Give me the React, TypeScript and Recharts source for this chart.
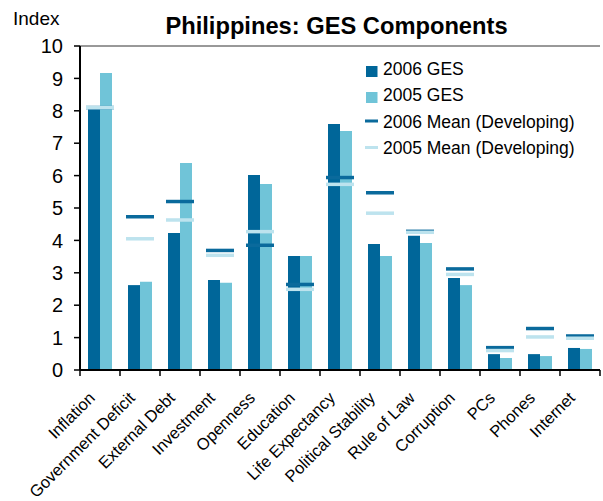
import * as React from "react";
import {
  ComposedChart, Bar, Scatter, XAxis, YAxis, ReferenceLine,
} from "recharts";

const categories = [
  "Inflation", "Government Deficit", "External Debt", "Investment", "Openness",
  "Education", "Life Expectancy", "Political Stability", "Rule of Law",
  "Corruption", "PCs", "Phones", "Internet",
];
const ges2006 = [8.05, 2.62, 4.23, 2.78, 6.02, 3.52, 7.59, 3.89, 4.14, 2.84, 0.49, 0.49, 0.68];
const ges2005 = [9.17, 2.72, 6.39, 2.69, 5.74, 3.52, 7.38, 3.52, 3.92, 2.62, 0.37, 0.43, 0.65];
const mean2006 = [8.1, 4.73, 5.2, 3.69, 3.85, 2.64, 5.94, 5.47, 4.28, 3.12, 0.69, 1.28, 1.05];
const mean2005 = [8.1, 4.05, 4.63, 3.54, 4.27, 2.49, 5.73, 4.84, 4.25, 2.95, 0.6, 1.02, 0.98];
const yTicks = [0, 1, 2, 3, 4, 5, 6, 7, 8, 9, 10];

const DARK = "#006699";
const LIGHT = "#70c4d8";
const MEAN06 = "#0a6a9c";
const MEAN05 = "#bde3ee";
const FONT = "'Liberation Sans', Arial, sans-serif";

const data = categories.map((name, i) => ({
  name,
  ges06: ges2006[i],
  ges05: ges2005[i],
  mean06: mean2006[i],
  mean05: mean2005[i],
}));

const meanShape = (color: string) => (props: any) => {
  const { cx, cy } = props;
  if (cx == null || cy == null) return <g />;
  return <line x1={cx - 14} x2={cx + 14} y1={cy} y2={cy} stroke={color} strokeWidth={3.5} />;
};

function CatTick(props: any) {
  const { x, y, payload, index } = props;
  const ax = x - 4;
  const ay = y + 21;
  return (
    <g>
      <line x1={x - 20} x2={x - 20} y1={y - 8} y2={y - 2} stroke="#000" strokeWidth={1.5} />
      {index === categories.length - 1 && (
        <line x1={x + 20} x2={x + 20} y1={y - 8} y2={y - 2} stroke="#000" strokeWidth={1.5} />
      )}
      <text
        x={ax}
        y={ay}
        transform={`rotate(-45, ${ax}, ${ay})`}
        textAnchor="end"
        fontSize={16.5}
        fontFamily={FONT}
        fill="#000"
      >
        {payload.value}
      </text>
    </g>
  );
}

const legendRows = [
  { label: "2006 GES", color: DARK, kind: "box", base: 75 },
  { label: "2005 GES", color: LIGHT, kind: "box", base: 101 },
  { label: "2006 Mean (Developing)", color: MEAN06, kind: "line", base: 127.5 },
  { label: "2005 Mean (Developing)", color: MEAN05, kind: "line", base: 154 },
];

function Overlay() {
  return (
    <svg
      width={603}
      height={501}
      style={{ position: "absolute", left: 0, top: 0, pointerEvents: "none" }}
      fontFamily={FONT}
    >
      <text x={336.5} y={34} textAnchor="middle" fontSize={23.7} fontWeight="bold" fill="#000">
        Philippines: GES Components
      </text>
      <text x={13} y={25} fontSize={19} fill="#000">Index</text>
      {legendRows.map((r) =>
        <g key={r.label}>
          {r.kind === "box" ? (
            <rect x={366} y={r.base - 9} width={11.5} height={11} fill={r.color} />
          ) : (
            <rect x={365} y={r.base - 8} width={13} height={3} fill={r.color} />
          )}
          <text x={383} y={r.base} fontSize={17.5} fill="#000">{r.label}</text>
        </g>
      )}
    </svg>
  );
}

export default function App() {
  return (
    <div style={{ position: "absolute", left: 0, top: 0, width: 603, height: 501, background: "#fff" }}>
      <ComposedChart
        width={603}
        height={501}
        data={data}
        margin={{ top: 46, right: 3, left: 0, bottom: 0 }}
        barCategoryGap="20%"
        barGap={0}
      >
        <XAxis
          dataKey="name"
          interval={0}
          height={131}
          axisLine={{ stroke: "#000", strokeWidth: 2 }}
          tickLine={false}
          tick={<CatTick />}
        />
        <YAxis
          domain={[0, 10]}
          ticks={yTicks}
          width={80}
          axisLine={{ stroke: "#000", strokeWidth: 2 }}
          tickLine={{ stroke: "#000", strokeWidth: 1.5 }}
          tickSize={6}
          tickMargin={11}
          tick={{ fill: "#000", fontSize: 20, fontFamily: FONT }}
        />
        <YAxis
          yAxisId="frame"
          orientation="right"
          width={0}
          tick={false}
          tickLine={false}
          axisLine={{ stroke: "#333", strokeWidth: 1 }}
        />
        <ReferenceLine y={10} stroke="#333" strokeWidth={1} />
        <Bar dataKey="ges06" name="2006 GES" fill={DARK} isAnimationActive={false} />
        <Bar dataKey="ges05" name="2005 GES" fill={LIGHT} isAnimationActive={false} />
        <Scatter dataKey="mean06" name="2006 Mean (Developing)" fill={MEAN06} shape={meanShape(MEAN06)} isAnimationActive={false} />
        <Scatter dataKey="mean05" name="2005 Mean (Developing)" fill={MEAN05} shape={meanShape(MEAN05)} isAnimationActive={false} />
      </ComposedChart>
      <Overlay />
    </div>
  );
}
